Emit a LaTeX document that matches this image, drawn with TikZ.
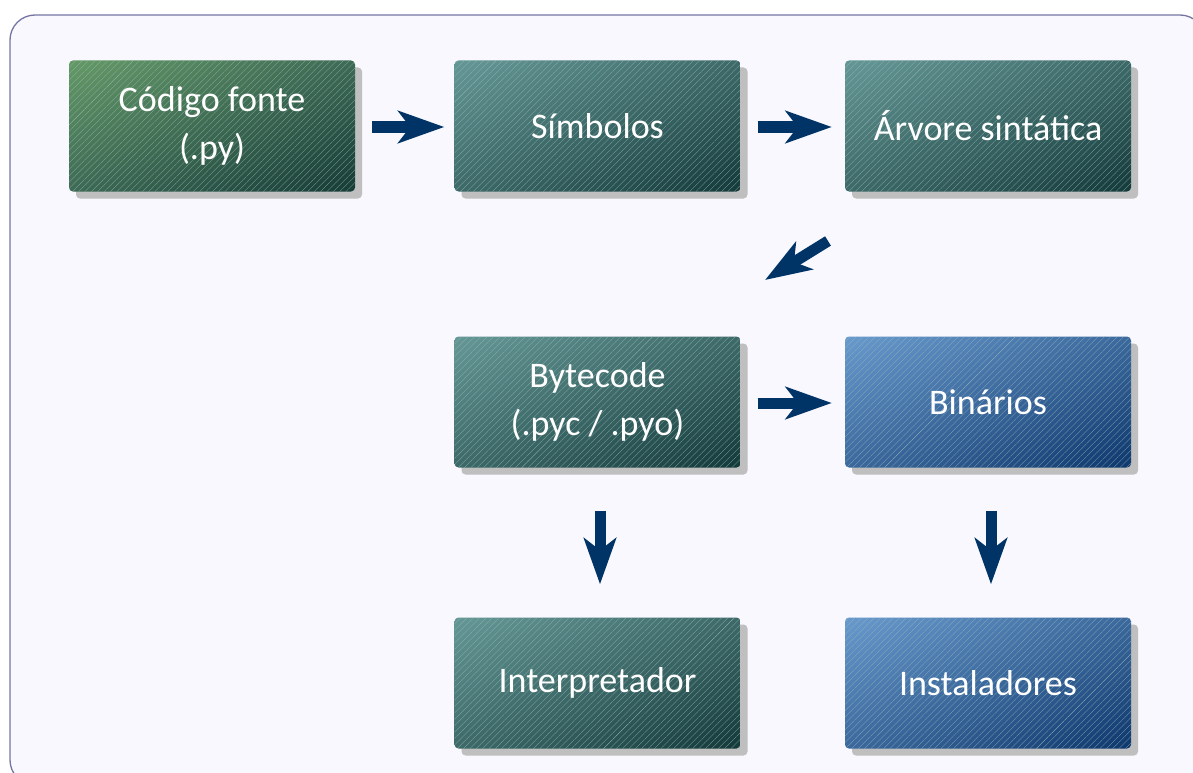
\documentclass[tikz,border=0pt]{standalone}
\usepackage{fontspec}
\setmainfont{Carlito}
\usetikzlibrary{arrows.meta,shadows,shadings,patterns.meta}
\definecolor{framecol}{HTML}{7474A4}
\definecolor{framefill}{HTML}{F8F8FE}
\definecolor{arrowcol}{HTML}{003366}
\definecolor{gA}{HTML}{649A66}
\definecolor{gM}{HTML}{3D6A55}
\definecolor{gD}{HTML}{163C36}
\definecolor{tA}{HTML}{649896}
\definecolor{tM}{HTML}{3D6A69}
\definecolor{tD}{HTML}{143A3A}
\definecolor{bA}{HTML}{689ACE}
\definecolor{bM}{HTML}{3B699E}
\definecolor{bD}{HTML}{0E386E}
\definecolor{hatch}{HTML}{9FB8B8}
\tikzset{
  box/.style={rounded corners=4pt, minimum width=286pt, minimum height=131pt,
    text=white, align=center, font=\fontsize{36}{48}\selectfont, inner sep=0pt,
    drop shadow={shadow xshift=7pt, shadow yshift=-7pt, fill=black!25, opacity=1},
    postaction={pattern={Lines[angle=45,distance=4.5pt,line width=0.18pt]},
      pattern color=hatch}},
  greenbox/.style={box, upper left=gA, upper right=gM, lower left=gM, lower right=gD},
  tealbox/.style={box, upper left=tA, upper right=tM, lower left=tM, lower right=tD},
  bluebox/.style={box, upper left=bA, upper right=bM, lower left=bM, lower right=bD},
  flow/.style={arrowcol, line width=11pt, -{Stealth[length=46pt,width=32pt,inset=12pt]}}
}
\begin{document}
\begin{tikzpicture}[x=1pt,y=-1pt]
\useasboundingbox (0,0) rectangle (1193,773);
\clip (0,0) rectangle (1193,773);
\draw[framecol, fill=framefill, line width=1.3pt, rounded corners=25pt] (10,15) rectangle (1205,785);

\node[greenbox] (src) at (212,126) {Código fonte\\(.py)};
\node[tealbox] (sym) at (597.5,126) {Símbolos};
\node[tealbox] (tree) at (988,126) {Árvore sintática};
\node[tealbox] (bc) at (597.5,402) {Bytecode\\(.pyc / .pyo)};
\node[bluebox] (bin) at (988,402) {Binários};
\node[tealbox] (interp) at (597.5,683) {Interpretador};
\node[bluebox] (inst) at (988,683) {Instaladores};

\coordinate (d1) at (828,241);
\coordinate (d2) at (765,280);

\draw[flow, shorten <=17pt, shorten >=10pt] ([yshift=-1pt]src.east) -- ([yshift=-1pt]sym.west);
\draw[flow, shorten <=17pt, shorten >=13pt] ([yshift=-1pt]sym.east) -- ([yshift=-1pt]tree.west);
\draw[flow] (d1) -- (d2);
\draw[flow, shorten <=17pt, shorten >=13pt] ([yshift=-1pt]bc.east) -- ([yshift=-1pt]bin.west);
\draw[flow, shorten <=43pt, shorten >=33pt] ([xshift=2.5pt]bc.south) -- ([xshift=2.5pt]interp.north);
\draw[flow, shorten <=43pt, shorten >=33pt] ([xshift=3pt]bin.south) -- ([xshift=3pt]inst.north);
\end{tikzpicture}
\end{document}
